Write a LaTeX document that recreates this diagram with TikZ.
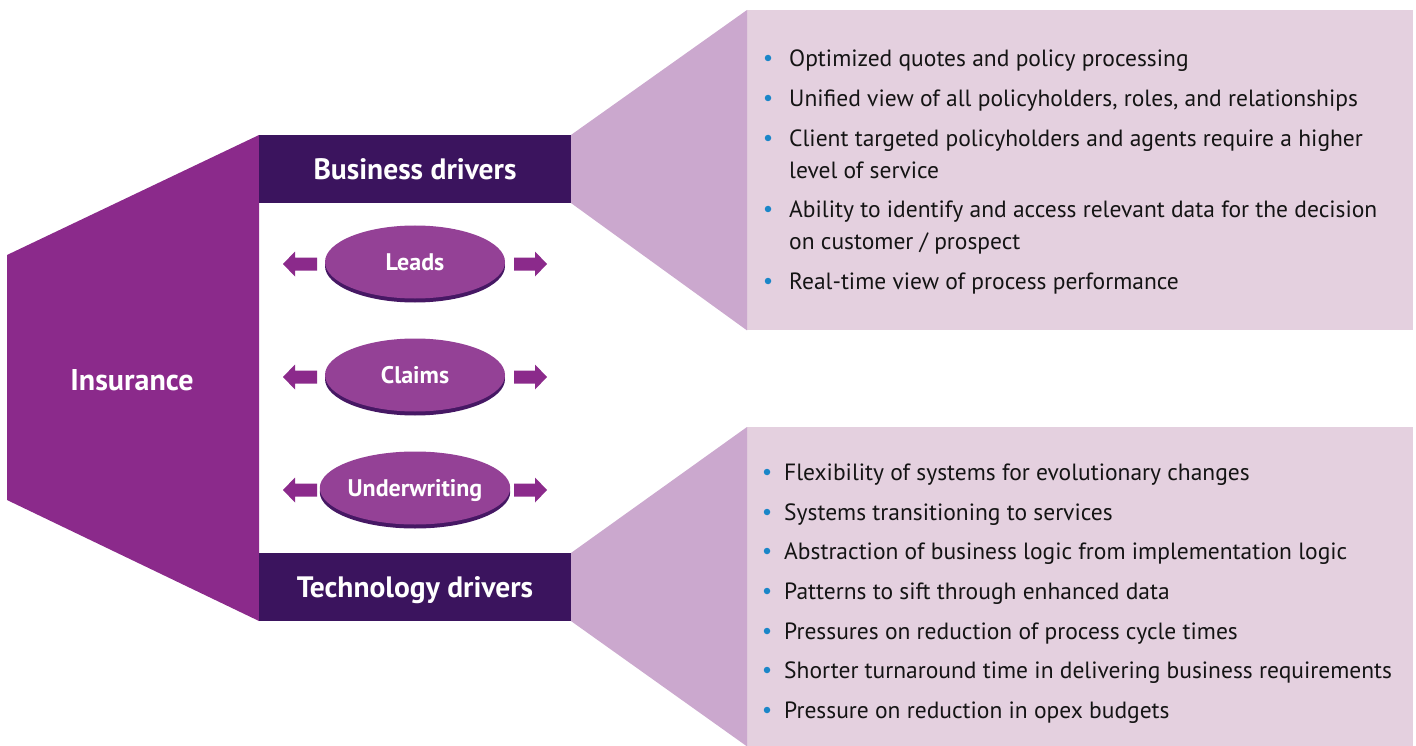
\documentclass[tikz,border=0pt]{standalone}
\usepackage{fontspec}
\setmainfont{PT Sans}
\usetikzlibrary{shapes.geometric,shadows}
\definecolor{insc}{RGB}{139,42,139}
\definecolor{darkc}{RGB}{59,20,94}
\definecolor{ellc}{RGB}{148,65,150}
\definecolor{shadc}{RGB}{70,24,100}
\definecolor{func}{RGB}{203,168,206}
\definecolor{panc}{RGB}{228,208,223}
\definecolor{bulc}{RGB}{26,134,200}
\definecolor{txtc}{RGB}{20,20,20}
\newcommand\ovtext[1]{\raisebox{-5pt}[0pt][0pt]{#1}}
\tikzset{
  hdr/.style={fill=darkc, text=white, minimum width=312, minimum height=68, inner sep=0, text depth=0pt, font=\bfseries\fontsize{29.5}{34}\selectfont},
  panel/.style={fill=panc, minimum width=666, minimum height=320, inner sep=0, anchor=north west},
  oval/.style={ellipse, fill=ellc, text=white, minimum width=180, minimum height=73, inner sep=0,
     text height=0.7em, text depth=0pt,
     font=\bfseries\fontsize{24}{28}\selectfont,
     drop shadow={shadow xshift=0pt, shadow yshift=-4pt, fill=shadc, opacity=1}},
  line/.style={anchor=west, inner sep=0, text=txtc, text height=0.75em, text depth=0.25em, font=\fontsize{23.5}{28}\selectfont},
  bul/.style={circle, fill=bulc, minimum size=6.5, inner sep=0},
  barrow/.style={fill=insc}
}
\begin{document}
\begin{tikzpicture}[x=1pt,y=-1pt]
\useasboundingbox (0,0) rectangle (1416,746);
% panels
\node[panel] (tp) at (747,10) {};
\node[panel, minimum height=319] (bp) at (747,427) {};
% insurance shape
\fill[insc] (7,255) -- (259,135) -- (259,621) -- (7,500) -- cycle;
\node[text=white, font=\bfseries\fontsize{30}{34}\selectfont] (ins) at (132,380) {Insurance};
% headers
\node[hdr] (bd) at (415,169) {Business drivers};
\node[hdr] (td) at (415,587) {Technology drivers};
% funnels
\fill[func] (bd.north east) -- (tp.north west) -- (tp.south west) -- (bd.south east) -- cycle;
\fill[func] (td.north east) -- (bp.north west) -- (bp.south west) -- (td.south east) -- cycle;
% ovals
\node[oval] (leads) at (415,262) {\ovtext{Leads}};
\node[oval] (claims) at (415,375) {\ovtext{Claims}};
\node[oval] (under) at (415,488) {\ovtext{Underwriting}};
% arrows
\foreach \n/\y in {leads/264, claims/377, under/490}{
  \fill[barrow] (283,\y) -- (295,\y-12.5) -- (295,\y-6.5) -- (317,\y-6.5) -- (317,\y+6.5) -- (295,\y+6.5) -- (295,\y+12.5) -- cycle;
  \fill[barrow] (547,\y) -- (535,\y-12.5) -- (535,\y-6.5) -- (514,\y-6.5) -- (514,\y+6.5) -- (535,\y+6.5) -- (535,\y+12.5) -- cycle;
}
% top bullets
\foreach \i/\y in {1/58,2/98,3/138,4/209,5/281}{\node[bul] (tb\i) at (768,\y) {};}
\node[line] (t1) at (789,64) {Optimized quotes and policy processing};
\node[line] (t2) at (789,104) {Unified view of all policyholders, roles, and relationships};
\node[line] (t3) at (789,144) {Client targeted policyholders and agents require a higher};
\node[line] (t3b) at (789,176) {level of service};
\node[line] (t4) at (789,215) {Ability to identify and access relevant data for the decision};
\node[line] (t4b) at (789,247) {on customer / prospect};
\node[line] (t5) at (789,287) {Real-time view of process performance};
% bottom bullets
\foreach \i/\y in {1/472,2/512,3/551,4/591,5/631,6/670,7/710}{\node[bul] (bb\i) at (767,\y) {};}
\node[line] (b1) at (784,478) {Flexibility of systems for evolutionary changes};
\node[line] (b2) at (784,518) {Systems transitioning to services};
\node[line] (b3) at (784,557) {Abstraction of business logic from implementation logic};
\node[line] (b4) at (784,597) {Patterns to sift through enhanced data};
\node[line] (b5) at (784,637) {Pressures on reduction of process cycle times};
\node[line] (b6) at (784,676) {Shorter turnaround time in delivering business requirements};
\node[line] (b7) at (784,716) {Pressure on reduction in opex budgets};
\end{tikzpicture}
\end{document}
